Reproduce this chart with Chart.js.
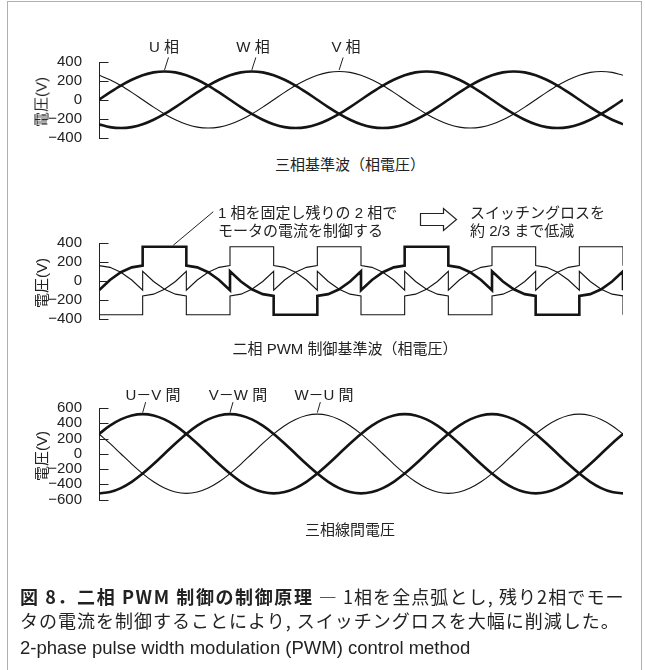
<!DOCTYPE html>
<html><head><meta charset="utf-8">
<script src="https://cdn.jsdelivr.net/npm/chart.js@4.4.1/dist/chart.umd.min.js"></script>
<style>
html,body{margin:0;padding:0;background:#fff;}
body{width:645px;height:670px;position:relative;overflow:hidden;font-family:"Liberation Sans","Noto Sans CJK JP",sans-serif;color:#222;}
canvas{position:absolute;left:0;}
.t{position:absolute;white-space:nowrap;font-size:15px;line-height:1;transform:translate(-50%,-50%);}
.l{position:absolute;white-space:nowrap;font-size:15px;line-height:1;transform:translateY(-50%);}
.yt{position:absolute;white-space:nowrap;font-size:15px;line-height:1;transform:translate(-50%,-50%) rotate(-90deg);}
.cap{position:absolute;left:20px;white-space:nowrap;font-size:18px;line-height:1;transform:translateY(-50%);font-family:"Noto Sans CJK JP",sans-serif;color:#222;}
#frame{position:absolute;left:7px;top:1px;width:633px;height:720px;border:1.5px solid #b0b0b0;}
</style></head><body>
<div id="frame"></div>

<canvas id="c1" width="645" height="114" style="top:40px"></canvas>
<canvas id="c2" width="645" height="135" style="top:200px"></canvas>
<canvas id="c3" width="645" height="136" style="top:380px"></canvas>

<!-- panel 1 texts -->
<div class="t" style="left:164px;top:46px">U 相</div>
<div class="t" style="left:253px;top:46px">W 相</div>
<div class="t" style="left:346px;top:46px">V 相</div>
<div class="yt" style="left:41px;top:102px">電圧(V)</div>
<div class="t" style="left:350px;top:164px">三相基準波（相電圧）</div>

<!-- panel 2 texts -->
<div class="l" style="left:218px;top:212px">1 相を固定し残りの 2 相で</div>
<div class="l" style="left:218px;top:230px">モータの電流を制御する</div>
<svg style="position:absolute;left:0;top:0" width="645" height="670">
  <polygon points="420.5,213.5 443.5,213.5 443.5,208.5 456.5,219.5 443.5,230.5 443.5,225.5 420.5,225.5" fill="none" stroke="#222" stroke-width="1.2"/>
</svg>
<div class="l" style="left:470px;top:212px">スイッチングロスを</div>
<div class="l" style="left:470px;top:230px">約 2/3 まで低減</div>
<div class="yt" style="left:41px;top:283px">電圧(V)</div>
<div class="t" style="left:345px;top:348px">二相 PWM 制御基準波（相電圧）</div>

<!-- panel 3 texts -->
<div class="t" style="left:153px;top:394px">U－V 間</div>
<div class="t" style="left:238px;top:394px">V－W 間</div>
<div class="t" style="left:324px;top:394px">W－U 間</div>
<div class="yt" style="left:41px;top:456px">電圧(V)</div>
<div class="t" style="left:350px;top:529px">三相線間電圧</div>

<!-- caption -->
<div class="cap" style="top:596px"><b style="letter-spacing:1.6px">図 8．二相 PWM 制御の制御原理</b><span style="letter-spacing:1.1px"> ― 1相を全点弧とし, 残り2相でモー</span></div>
<div class="cap" style="top:620px;letter-spacing:1px">タの電流を制御することにより, スイッチングロスを大幅に削減した。</div>
<div class="cap" style="top:648px;font-family:'Liberation Sans',sans-serif;font-size:18.5px;">2-phase pulse width modulation (PWM) control method</div>

<script>
// ---- data (electrical angle in degrees, voltage in V) ----
const degrees = [0,15,30,45,60,75,90,105,120,135,150,165,180,195,210,225,240,255,270,285,300,315,330,345,360,
  375,390,405,420,435,450,465,480,495,510,525,540,555,570,585,600,615,630,645,660,675,690,705,720];

// panel 1: three-phase reference (phase voltage)
const phaseU = [0,78,150,212,260,290,300,290,260,212,150,78,0,-78,-150,-212,-260,-290,-300,-290,-260,-212,-150,-78,
  0,78,150,212,260,290,300,290,260,212,150,78,0,-78,-150,-212,-260,-290,-300,-290,-260,-212,-150,-78,0];
const phaseW = [-260,-290,-300,-290,-260,-212,-150,-78,0,78,150,212,260,290,300,290,260,212,150,78,0,-78,-150,-212,
  -260,-290,-300,-290,-260,-212,-150,-78,0,78,150,212,260,290,300,290,260,212,150,78,0,-78,-150,-212,-260];
const phaseV = [260,212,150,78,0,-78,-150,-212,-260,-290,-300,-290,-260,-212,-150,-78,0,78,150,212,260,290,300,290,
  260,212,150,78,0,-78,-150,-212,-260,-290,-300,-290,-260,-212,-150,-78,0,78,150,212,260,290,300,290,260];

// panel 2: two-phase PWM reference  [degree, voltage]
const pwmU = [[0,-100],[15,8],[30,90],[45,142],[60,160],[60,360],[120,360],[120,160],[135,142],[150,90],[165,8],[180,-100],
  [180,100],[195,-8],[210,-90],[225,-142],[240,-160],[240,-360],[300,-360],[300,-160],[315,-142],[330,-90],[345,-8],[360,100],
  [360,-100],[375,8],[390,90],[405,142],[420,160],[420,360],[480,360],[480,160],[495,142],[510,90],[525,8],[540,-100],
  [540,100],[555,-8],[570,-90],[585,-142],[600,-160],[600,-360],[660,-360],[660,-160],[675,-142],[690,-90],[705,-8],[720,100],[720,-100]];
const pwmV = [[0,160],[15,142],[30,90],[45,8],[60,-100],[60,100],[75,-8],[90,-90],[105,-142],[120,-160],[120,-360],[180,-360],
  [180,-160],[195,-142],[210,-90],[225,-8],[240,100],[240,-100],[255,8],[270,90],[285,142],[300,160],[300,360],[360,360],
  [360,160],[375,142],[390,90],[405,8],[420,-100],[420,100],[435,-8],[450,-90],[465,-142],[480,-160],[480,-360],[540,-360],
  [540,-160],[555,-142],[570,-90],[585,-8],[600,100],[600,-100],[615,8],[630,90],[645,142],[660,160],[660,360],[720,360],[720,160]];
const pwmW = [[0,-360],[60,-360],[60,-160],[75,-142],[90,-90],[105,-8],[120,100],[120,-100],[135,8],[150,90],[165,142],[180,160],
  [180,360],[240,360],[240,160],[255,142],[270,90],[285,8],[300,-100],[300,100],[315,-8],[330,-90],[345,-142],[360,-160],
  [360,-360],[420,-360],[420,-160],[435,-142],[450,-90],[465,-8],[480,100],[480,-100],[495,8],[510,90],[525,142],[540,160],
  [540,360],[600,360],[600,160],[615,142],[630,90],[645,8],[660,-100],[660,100],[675,-8],[690,-90],[705,-142],[720,-160],[720,-360]];

// panel 3: line-to-line voltages
const lineUV = [260,368,450,502,520,502,450,368,260,135,0,-135,-260,-368,-450,-502,-520,-502,-450,-368,-260,-135,0,135,
  260,368,450,502,520,502,450,368,260,135,0,-135,-260,-368,-450,-502,-520,-502,-450,-368,-260,-135,0,135,260];
const lineVW = [-520,-502,-450,-368,-260,-135,0,135,260,368,450,502,520,502,450,368,260,135,0,-135,-260,-368,-450,-502,
  -520,-502,-450,-368,-260,-135,0,135,260,368,450,502,520,502,450,368,260,135,0,-135,-260,-368,-450,-502,-520];
const lineWU = [260,135,0,-135,-260,-368,-450,-502,-520,-502,-450,-368,-260,-135,0,135,260,368,450,502,520,502,450,368,
  260,135,0,-135,-260,-368,-450,-502,-520,-502,-450,-368,-260,-135,0,135,260,368,450,502,520,502,450,368,260];

const ticks12 = [-400,-200,0,200,400];
const ticks3 = [-600,-400,-200,0,200,400,600];

// ---- drawing ----
const INK = '#141414';
const THICK = 2.6, THIN = 1.1;

const axisDecor = {
  id: 'axisDecor',
  afterDatasetsDraw(chart, args, opts) {
    const ctx = chart.ctx, ys = chart.scales.y, xs = chart.scales.x;
    ctx.save();
    ctx.strokeStyle = '#222';
    ctx.lineWidth = 1;
    const left = Math.round(chart.chartArea.left) + 0.5;
    ys.ticks.forEach(t => {
      const py = Math.round(ys.getPixelForValue(t.value)) + 0.5;
      ctx.beginPath(); ctx.moveTo(left - 0.5, py); ctx.lineTo(left + 9, py); ctx.stroke();
    });
    (opts.leaders || []).forEach(l => {
      const px = xs.getPixelForValue(l.deg), py = ys.getPixelForValue(l.val);
      ctx.beginPath(); ctx.moveTo(px, py - 1.5); ctx.lineTo(px + l.dx, py + l.dy); ctx.stroke();
    });
    ctx.restore();
  }
};

function xy(ys) { return ys.map((v, i) => ({x: degrees[i], y: v})); }
function pairs(p) { return p.map(q => ({x: q[0], y: q[1]})); }
const fmt = v => (v < 0 ? '\u2212' + Math.abs(v) : String(v));

function makeChart(id, datasets, lim, tickVals, pad, leaders, smooth) {
  return new Chart(document.getElementById(id), {
    type: 'line',
    data: { datasets: datasets.map(d => ({
      data: d.data, borderColor: INK, borderWidth: d.w, pointRadius: 0, fill: false,
      tension: 0, cubicInterpolationMode: smooth ? 'monotone' : 'default', borderJoinStyle: 'miter', borderCapStyle: 'butt'
    })) },
    options: {
      responsive: false, animation: false, devicePixelRatio: 1,
      layout: { padding: { top: pad[0], bottom: pad[1], left: 0, right: 22 } },
      plugins: { legend: { display: false }, tooltip: { enabled: false }, axisDecor: { leaders } },
      scales: {
        x: { type: 'linear', min: 0, max: 720, display: false },
        y: {
          min: -lim, max: lim,
          afterFit: s => { s.width = 99; },
          afterBuildTicks: s => { s.ticks = tickVals.map(v => ({ value: v })); },
          grid: { display: false },
          border: { display: true, color: '#222', width: 1 },
          ticks: { autoSkip: false, padding: 9, color: '#222', font: { family: 'Liberation Sans', size: 15, lineHeight: 1 }, callback: fmt }
        }
      }
    },
    plugins: [axisDecor]
  });
}

makeChart('c1', [
  { data: xy(phaseV), w: THIN },
  { data: xy(phaseW), w: THICK },
  { data: xy(phaseU), w: THICK }
], 400, ticks12, [22, 12], [
  { deg: 90, val: 300, dx: 4, dy: -14 },
  { deg: 210, val: 300, dx: 4, dy: -14 },
  { deg: 330, val: 300, dx: 4, dy: -14 }
], true);

makeChart('c2', [
  { data: pairs(pwmV), w: THIN },
  { data: pairs(pwmW), w: THIN },
  { data: pairs(pwmU), w: THICK }
], 400, ticks12, [43, 12], [
  { deg: 102, val: 360, dx: 40, dy: -35 }
], false);

makeChart('c3', [
  { data: xy(lineWU), w: THIN },
  { data: xy(lineVW), w: THICK },
  { data: xy(lineUV), w: THICK }
], 600, ticks3, [28, 12], [
  { deg: 60, val: 520, dx: 3, dy: -12 },
  { deg: 180, val: 520, dx: 3, dy: -12 },
  { deg: 300, val: 520, dx: 3, dy: -12 }
], true);
</script>
</body></html>
